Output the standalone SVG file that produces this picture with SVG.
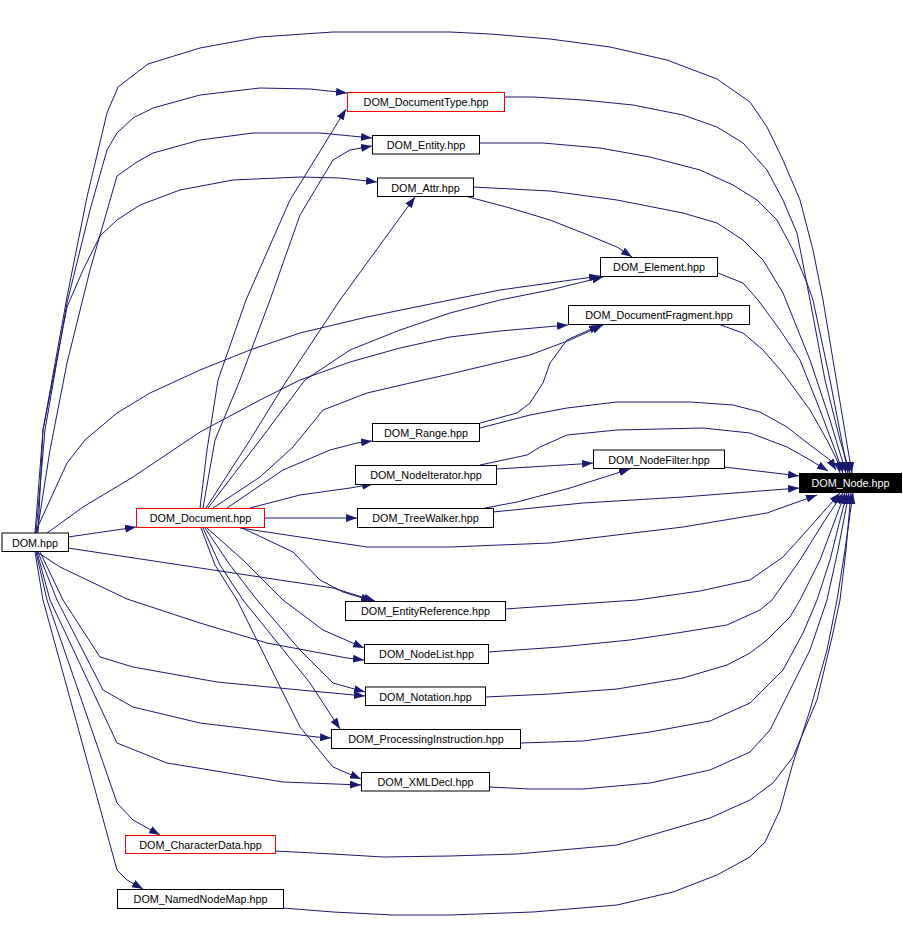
<svg xmlns="http://www.w3.org/2000/svg" width="903" height="930" viewBox="0 0 903 930">
<style>
.n rect{fill:#fff;stroke:#000;stroke-width:1}
.n.r rect{stroke:#f00}
.n.b rect{fill:#000}
.n text{font-family:"Liberation Sans",Arial,sans-serif;font-size:10.8px;text-anchor:middle;fill:#000}
.n.b text{fill:#fff}
#edges polyline{fill:none;stroke:#191970;stroke-width:1;marker-end:url(#ah)}
</style>
<defs>
<marker id="ah" markerWidth="11" markerHeight="8" refX="11" refY="4" orient="auto" markerUnits="userSpaceOnUse"><path d="M0,0 L11,4 L0,8 z" fill="#191970"/></marker>
</defs>
<rect width="903" height="930" fill="#fff"/>
<g id="edges">
<polyline points="35,533 43,430 67,297 87,197 107,113 118,87 148,64 200,48 260,37 333,32 450,32 490,34 550,39 610,47 667,60 717,79 750,102 767,127 783,160 800,200 813,250 823,300 833,360 843,420 848,450 852,473"/>
<polyline points="36,533 45,430 67,303 90,210 107,150 117,133 133,118 153,108 200,95 260,88 310,89 347,93"/>
<polyline points="37,533 50,450 67,363 90,270 117,176 137,162 153,153 200,140 253,133 320,133 372,138"/>
<polyline points="38,533 43,430 67,307 83,270 100,236 117,220 140,205 180,190 233,180 300,177 340,178 377,182"/>
<polyline points="35,533 67,463 85,440 117,413 150,393 200,370 250,350 300,333 367,317 450,300 500,290 550,283 600,276"/>
<polyline points="47,533 83,507 133,477 200,432 260,400 300,380 350,362 400,348 450,337 500,331 568,325"/>
<polyline points="68,537 123,529 136,527"/>
<polyline points="68,548 200,568 333,588 375,601"/>
<polyline points="37,552 60,567 127,599 200,623 267,643 347,658 364,660"/>
<polyline points="40,552 63,600 100,657 133,667 217,682 300,690 365,696"/>
<polyline points="38,552 57,600 103,690 133,707 200,723 317,737 331,738"/>
<polyline points="37,552 50,600 117,743 167,763 283,782 361,785"/>
<polyline points="36,552 47,600 117,803 133,820 160,835"/>
<polyline points="35,552 43,600 117,870 127,880 143,889"/>
<polyline points="200,508 207,450 218,380 246,300 290,200 346,109"/>
<polyline points="203,508 215,440 240,380 270,300 300,215 333,160 350,150 372,146"/>
<polyline points="206,508 250,440 287,380 340,300 380,245 415,197"/>
<polyline points="208,508 260,440 305,380 350,350 400,330 450,313 500,300 550,290 603,277"/>
<polyline points="213,508 260,477 293,447 323,410 367,393 423,380 450,374 530,355 570,340 603,325"/>
<polyline points="227,508 283,470 330,450 357,443 372,441"/>
<polyline points="250,508 300,495 350,488 373,484"/>
<polyline points="264,518 357,518"/>
<polyline points="240,528 300,537 367,547 450,547 550,543 683,527 767,513 817,495"/>
<polyline points="240,527 293,552 320,580 343,592 372,601"/>
<polyline points="207,528 243,560 283,600 323,630 364,648"/>
<polyline points="205,528 230,565 257,600 300,650 333,683 365,692"/>
<polyline points="203,528 220,565 243,600 310,683 340,729"/>
<polyline points="201,528 215,565 237,600 300,727 333,767 361,779"/>
<polyline points="465,196 510,208 550,220 583,233 617,247 632,257"/>
<polyline points="473,187 550,191 617,200 683,213 717,223 743,240 763,260 783,293 810,360 830,420 846,473"/>
<polyline points="504,97 533,97 583,100 633,105 683,115 717,127 743,143 767,170 783,200 797,233 810,300 825,380 840,440 850,473"/>
<polyline points="479,143 543,143 600,148 650,157 700,170 733,185 757,200 777,220 793,250 807,283 813,300 830,380 848,473"/>
<polyline points="718,273 743,283 758,300 780,330 800,360 820,410 835,450 843,473"/>
<polyline points="718,324 743,333 763,350 783,373 810,410 827,440 837,460 840,473"/>
<polyline points="480,423 517,413 530,403 543,383 550,363 567,340 600,325"/>
<polyline points="480,428 530,415 567,408 617,402 690,402 733,405 760,412 787,427 810,445 830,460 836,470"/>
<polyline points="480,465 527,455 540,447 567,435 617,430 703,428 750,433 787,447 810,460 828,471"/>
<polyline points="497,469 580,464 593,463"/>
<polyline points="724,467 783,474 799,476"/>
<polyline points="485,508 517,502 570,488 630,469"/>
<polyline points="493,512 583,503 683,497 799,488"/>
<polyline points="505,609 637,600 700,591 750,580 783,557 810,527 840,493"/>
<polyline points="488,652 560,647 630,640 677,633 727,625 760,610 772,600 800,560 825,520 843,493"/>
<polyline points="485,697 550,694 617,689 683,678 727,665 750,653 767,640 790,617 800,600 820,560 835,520 845,493"/>
<polyline points="521,743 583,741 650,732 710,721 750,703 783,670 803,633 817,600 830,560 840,520 847,493"/>
<polyline points="490,787 530,789 583,789 650,783 710,770 750,752 770,730 810,650 827,600 838,550 849,493"/>
<polyline points="275,851 333,854 383,857 450,856 517,854 617,845 710,818 750,800 773,783 793,757 817,700 833,633 840,600 846,550 851,493"/>
<polyline points="283,908 333,912 393,915 450,915 533,912 617,905 673,892 717,875 750,857 765,842 780,810 793,763 810,710 827,650 837,600 845,550 853,493"/>
</g>
<g id="n_doctype" class="n r"><rect x="347.5" y="92.5" width="157" height="19"/><text x="426" y="106">DOM_DocumentType.hpp</text></g>
<g id="n_entity" class="n"><rect x="372.5" y="135.5" width="107" height="18.5"/><text x="426" y="149">DOM_Entity.hpp</text></g>
<g id="n_attr" class="n"><rect x="377.5" y="178" width="96" height="18.5"/><text x="425.5" y="191.5">DOM_Attr.hpp</text></g>
<g id="n_element" class="n"><rect x="600.5" y="257.5" width="117" height="19"/><text x="659" y="271">DOM_Element.hpp</text></g>
<g id="n_docfrag" class="n"><rect x="568.5" y="305.5" width="181" height="19"/><text x="659" y="319">DOM_DocumentFragment.hpp</text></g>
<g id="n_range" class="n"><rect x="372.5" y="423.5" width="107" height="18"/><text x="426" y="436.5">DOM_Range.hpp</text></g>
<g id="n_nodeiter" class="n"><rect x="355.5" y="465.5" width="141" height="19"/><text x="426" y="479">DOM_NodeIterator.hpp</text></g>
<g id="n_nodefilter" class="n"><rect x="593.5" y="450" width="131" height="18.5"/><text x="659" y="463.5">DOM_NodeFilter.hpp</text></g>
<g id="n_node" class="n b"><rect x="799.5" y="473.5" width="102" height="19"/><text x="850.5" y="487">DOM_Node.hpp</text></g>
<g id="n_document" class="n r"><rect x="136.5" y="508.5" width="128" height="19"/><text x="200.5" y="522">DOM_Document.hpp</text></g>
<g id="n_treewalker" class="n"><rect x="357.5" y="508.5" width="136" height="19"/><text x="425.5" y="522">DOM_TreeWalker.hpp</text></g>
<g id="n_dom" class="n"><rect x="2" y="533" width="66.5" height="18.5"/><text x="35" y="546.5">DOM.hpp</text></g>
<g id="n_entityref" class="n"><rect x="345.5" y="601.5" width="160" height="19"/><text x="425.5" y="615">DOM_EntityReference.hpp</text></g>
<g id="n_nodelist" class="n"><rect x="364.5" y="644.5" width="124" height="19"/><text x="426.5" y="658">DOM_NodeList.hpp</text></g>
<g id="n_notation" class="n"><rect x="365.5" y="687" width="120" height="18.5"/><text x="425.5" y="700.5">DOM_Notation.hpp</text></g>
<g id="n_pi" class="n"><rect x="331.5" y="729.5" width="189" height="19"/><text x="426" y="743">DOM_ProcessingInstruction.hpp</text></g>
<g id="n_xmldecl" class="n"><rect x="361.5" y="772.5" width="128" height="18.5"/><text x="425.5" y="786">DOM_XMLDecl.hpp</text></g>
<g id="n_chardata" class="n r"><rect x="125.5" y="835.5" width="150" height="18"/><text x="200.5" y="848.5">DOM_CharacterData.hpp</text></g>
<g id="n_namednodemap" class="n"><rect x="117.5" y="889.5" width="166" height="19"/><text x="200.5" y="903">DOM_NamedNodeMap.hpp</text></g>
</svg>
